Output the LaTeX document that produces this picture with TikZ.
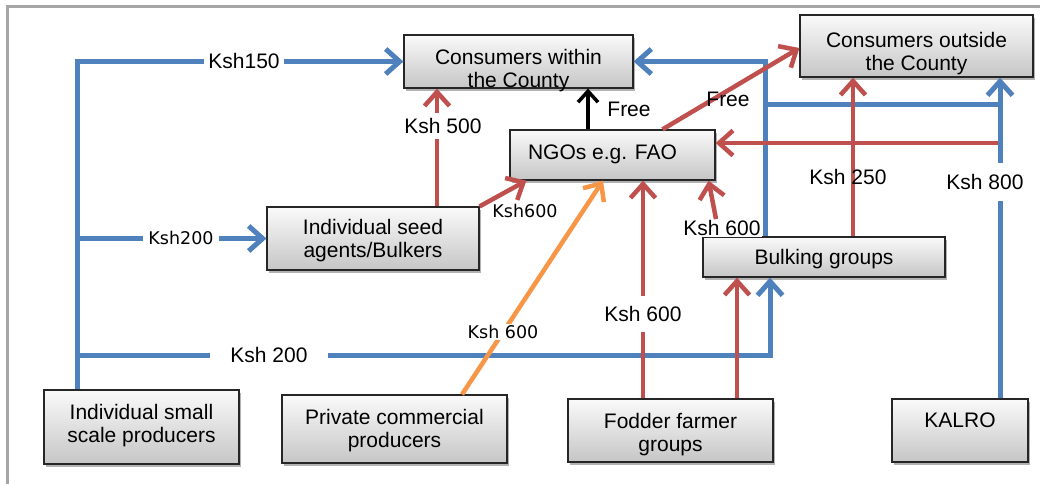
\documentclass[tikz,border=0pt]{standalone}
\usepackage{fontspec}
\setmainfont{Liberation Sans}
\newfontfamily\dvs{DejaVu Sans}
\usetikzlibrary{arrows.meta,shadows,calc}
\definecolor{ablue}{HTML}{4F81BD}
\definecolor{ared}{HTML}{C0504D}
\definecolor{aorange}{HTML}{F79646}
\newcommand{\bt}[3]{\hspace*{#1}\raisebox{#2}[\height][\depth]{\begin{tabular}{@{}c@{}}#3\end{tabular}}\hspace*{-#1}}
\begin{document}
\begin{tikzpicture}[x=1pt,y=-1pt,
  box/.style={draw=black!85, line width=1.2pt, top color=gray!4, bottom color=gray!45,
    inner sep=0pt, font=\fontsize{21}{23}\selectfont,
    drop shadow={shadow xshift=2pt, shadow yshift=-3pt, fill=black, opacity=0.3}},
  lbl/.style={font=\fontsize{21}{23}\selectfont, inner sep=1pt},
  wlbl/.style={lbl, fill=white},
  slbl/.style={font=\dvs\fontsize{17.5}{20}\selectfont, inner sep=1pt},
  tip/.style={-{Straight Barb[length=14pt,width=25pt]}},
  bluel/.style={draw=ablue, line width=5pt},
  bluea/.style={bluel, tip},
  reda/.style={draw=ared, line width=4.5pt, tip},
  orangea/.style={draw=aorange, line width=4.5pt, tip},
  blacka/.style={draw=black, line width=3.5pt, -{Straight Barb[length=11pt,width=20pt]}}]
\fill[white] (0,0) rectangle (1040,484);
\useasboundingbox (0,0) rectangle (1040,484);
\draw[gray!70, line width=3pt] (7,484) -- (7,7) -- (1040,7);

% boxes
\node[box, minimum width=229pt, minimum height=53pt] (cwc) at (518.5,61.5) {\bt{0pt}{-10pt}{Consumers within\\the County}};
\node[box, minimum width=233pt, minimum height=62pt] (cwo) at (916.5,46) {\bt{0pt}{-8pt}{Consumers outside\\the County}};
\node[box, minimum width=205pt, minimum height=50pt] (ngo) at (612.5,155) {\bt{-10pt}{0pt}{NGOs e.g. FAO}};
\node[box, minimum width=212pt, minimum height=63pt] (sa) at (373,238.5) {\bt{0pt}{-3pt}{Individual seed\\agents/Bulkers}};
\node[box, minimum width=242pt, minimum height=40pt] (bg) at (824,257) {\bt{0pt}{-3pt}{Bulking groups}};
\node[box, minimum width=195pt, minimum height=74pt] (isp) at (141.5,427) {\bt{0pt}{1pt}{Individual small\\scale producers}};
\node[box, minimum width=225pt, minimum height=68pt] (pcp) at (394.5,429) {\bt{0pt}{-2pt}{Private commercial\\producers}};
\node[box, minimum width=205pt, minimum height=63pt] (ffg) at (670.5,430.5) {\bt{0pt}{-5pt}{Fodder farmer\\groups}};
\node[box, minimum width=136pt, minimum height=63pt] (kal) at (960,430.5) {\bt{0pt}{8pt}{KALRO}};

% junction coordinates
\coordinate (ja) at ([xshift=-64.5pt]isp.north);
\coordinate (jb) at (ja |- sa.west);
\coordinate (jc) at (77,355);
\coordinate (bgin) at ([xshift=-54pt]bg.south);
\coordinate (bgout) at ([xshift=-59pt]bg.north);
\coordinate (jd) at (765,105);
\coordinate (je) at (1000,105);
\coordinate (kout) at ([xshift=40pt]kal.north);
\coordinate (jf) at (1000,143);

% blue connectors
\draw[bluea] (ja) |- (cwc.west);
\draw[bluea] (jb) -- (sa.west);
\draw[bluea] (jc) -| (bgin);
\draw[bluea] (bgout) |- (cwc.east);
\draw[bluel] (jd) -- (je);

% labels that sit on lines
\node[slbl] (l600a) at (525,211) {Ksh600};
\node[wlbl, inner ysep=1pt] (l600d) at (722,228) {Ksh 600};

% red / orange / black connectors
\draw[reda] ([xshift=64pt]sa.north) -- ([xshift=64pt]sa.north |- cwc.south);
\draw[reda] (sa.north east) -- ([xshift=17pt]ngo.south west);
\draw[orangea] ([xshift=67.5pt]pcp.north) -- ([xshift=-9.5pt]ngo.south);
\draw[reda] ([xshift=-27.5pt]ffg.north) -- ([xshift=-27.5pt]ffg.north |- ngo.south);
\draw[reda] ([xshift=66.5pt]ffg.north) -- ([xshift=66.5pt]ffg.north |- bg.south);
\draw[reda] ([xshift=-6pt]l600d.north) -- ([xshift=-7pt]ngo.south east);
\draw[reda] ([xshift=29pt]bg.north) -- ([xshift=29pt]bg.north |- cwo.south);
\draw[reda] (jf) -- (jf -| ngo.east);
\draw[reda] ([xshift=50pt]ngo.north) -- ([yshift=-2pt]cwo.west);
\draw[blacka] ([xshift=-24.5pt]ngo.north) -- ([xshift=-24.5pt]ngo.north |- cwc.south);

\draw[bluea] (kout) -- (kout |- cwo.south);

% labels
\node[wlbl, inner xsep=4pt] (l150) at (244,61) {Ksh150};
\node[slbl, fill=white, inner xsep=5pt] (l200a) at (181,238) {Ksh200};
\node[wlbl, inner xsep=20pt] (l200b) at (269,355) {Ksh 200};
\node[wlbl, inner ysep=5pt] (l500) at (443,126) {Ksh 500};
\node[slbl, fill=white] (l600b) at (503,332) {Ksh 600};
\node[wlbl, inner ysep=10pt] (l600c) at (643,314) {Ksh 600};
\node[lbl] (l250) at (848,177) {Ksh 250};
\node[wlbl, inner ysep=11pt] (l800) at (985,182) {Ksh 800};
\node[lbl] (free1) at (629,109) {Free};
\node[lbl] (free2) at (728,99) {Free};
\end{tikzpicture}
\end{document}
